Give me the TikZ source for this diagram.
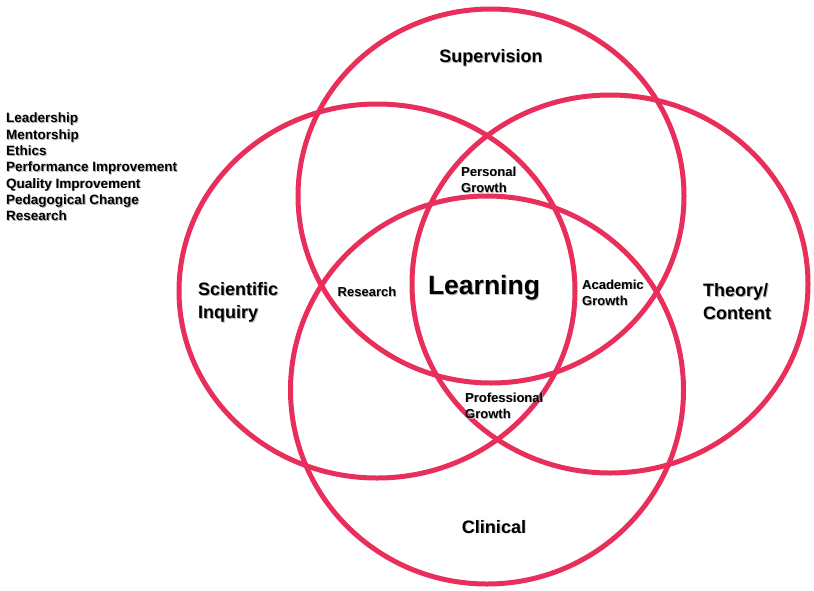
\documentclass[tikz,border=0pt]{standalone}
\usepackage{fontspec}
\setmainfont{Liberation Sans}
\usetikzlibrary{positioning,shapes.geometric}
\definecolor{vennred}{RGB}{232,46,90}
\newcommand{\shtext}[1]{\leavevmode\rlap{\kern0.8pt\raisebox{-0.8pt}{\textcolor{black!30}{#1}}}#1}

\begin{document}
\begin{tikzpicture}[x=1pt,y=-1pt]
  \tikzstyle{ring}=[ellipse, draw=vennred, line width=5pt, inner sep=0pt]
  \tikzstyle{bigtext}=[font=\bfseries\fontsize{18}{23}\selectfont, align=left, inner sep=0pt]
  \tikzstyle{smalltext}=[font=\bfseries\fontsize{13}{16.3}\selectfont, align=left, inner sep=0pt]
  \useasboundingbox (0,0) rectangle (814,590);
  \node[ring, minimum width=386pt, minimum height=374pt] (Supervision) at (491,196) {};
  \node[ring, minimum width=396pt, minimum height=374pt] (Scientific Inquiry) at (377,291) {};
  \node[ring, minimum width=396pt, minimum height=378pt] (Theory Content) at (610,284) {};
  \node[ring, minimum width=393pt, minimum height=388pt] (Clinical) at (487,390) {};
  \node[bigtext] (Supervision Label) at (491,58) {\shtext{Supervision}};
  \node[bigtext, anchor=west] (Inquiry Label) at (198,303) {\shtext{Scientific}\\
                                                             \shtext{Inquiry}};
  \node[bigtext, anchor=west] (Theory Label) at (703,302) {\shtext{Theory/}\\
                                                            \shtext{Content}};
  \node[bigtext] (Clinical Label) at (494,527) {\shtext{Clinical}};
  \node[bigtext, font=\bfseries\fontsize{26.5}{30}\selectfont] (Learning) at (484,288) {\shtext{Learning}};
  \node[smalltext] (Research) at (367,292) {\shtext{Research}};
  \node[smalltext, anchor=west] (Personal Growth) at (461,180) {\shtext{Personal}\\
                                                                 \shtext{Growth}};
  \node[smalltext, anchor=west] (Academic Growth) at (582,293) {\shtext{Academic}\\
                                                                 \shtext{Growth}};
  \node[smalltext, anchor=west] (Professional Growth) at (465,406) {\shtext{Professional}\\
                                                                     \shtext{Growth}};
  \node[smalltext, font=\bfseries\fontsize{13.5}{16.3}\selectfont, anchor=north west] (Outcomes) at (6,113) {\shtext{Leadership}\\
                                                             \shtext{Mentorship}\\
                                                             \shtext{Ethics}\\
                                                             \shtext{Performance Improvement}\\
                                                             \shtext{Quality Improvement}\\
                                                             \shtext{Pedagogical Change}\\
                                                             \shtext{Research}};
\end{tikzpicture}
\end{document}
